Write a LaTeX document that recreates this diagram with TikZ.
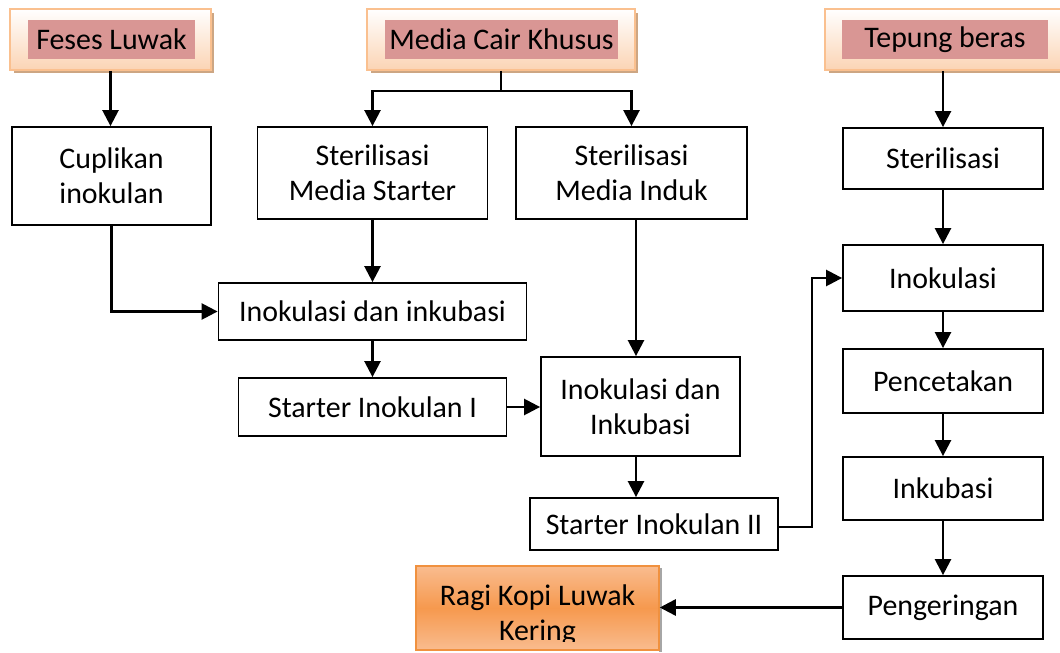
\documentclass[tikz,border=0pt]{standalone}
\usepackage{fontspec}
\setmainfont{Carlito}
\usetikzlibrary{arrows.meta}
\definecolor{peach}{HTML}{FBD4B4}
\definecolor{peachline}{HTML}{FAC08F}
\definecolor{rose}{HTML}{D99694}
\definecolor{tanshadow}{HTML}{CDA683}
\definecolor{ragilight}{HTML}{F9BC8F}
\definecolor{ragimid}{HTML}{F6994E}
\definecolor{ragiline}{HTML}{F0913F}
\tikzset{
  proc/.style={draw,line width=1.8bp,inner sep=0pt,align=center,font=\fontsize{30}{35}\selectfont},
  source/.style={draw=peachline,line width=2bp,top color=white,bottom color=peach,inner sep=0pt},
  tag/.style={fill=rose,inner sep=0pt,font=\fontsize{30}{35}\selectfont},
  arrow/.style={-{Triangle[length=16bp,width=16bp]}},
}
\begin{document}
\begin{tikzpicture}[x=1bp,y=-1bp,line join=miter]
\useasboundingbox (0,0) rectangle (1060,653);
%% sources
\fill [tanshadow] (14,13) rectangle (214,73);
\node (node_feses) at (110.5,39.5) [source,minimum width=201bp,minimum height=61bp] {};
\node (tag_feses) at (111.5,39.5) [tag,minimum width=167bp,minimum height=39bp] {Feses Luwak};
\fill [tanshadow] (371,13) rectangle (638,73);
\node (node_media) at (501,39.5) [source,minimum width=268bp,minimum height=61bp] {};
\node (tag_media) at (501.5,39.5) [tag,minimum width=233bp,minimum height=39bp] {Media Cair Khusus};
\fill [tanshadow] (829,13) rectangle (1066,73);
\node (node_tepung) at (943.5,39.5) [source,minimum width=237bp,minimum height=61bp] {};
\node (tag_tepung) at (945,39.5) [tag,minimum width=206bp,minimum height=39bp] {Tepung beras};
%% process boxes
\node (node_cuplikan) at (111.5,176) [proc,minimum width=199bp,minimum height=98bp] {Cuplikan\\inokulan};
\node (node_sms) at (372.5,173) [proc,minimum width=230bp,minimum height=92bp] {Sterilisasi\\Media Starter};
\node (node_smi) at (631.5,173) [proc,minimum width=231bp,minimum height=92bp] {Sterilisasi\\Media Induk};
\node (node_ster) at (943,158.5) [proc,minimum width=200bp,minimum height=61bp] {Sterilisasi};
\node (node_iki) at (372.5,311.5) [proc,minimum width=308bp,minimum height=57bp] {Inokulasi dan inkubasi};
\node (node_si1) at (372.5,407) [proc,minimum width=268bp,minimum height=58bp] {Starter Inokulan I};
\node (node_mid) at (640.5,406.5) [proc,minimum width=199bp,minimum height=99bp] {Inokulasi dan\\Inkubasi};
\node (node_si2) at (654,524) [proc,minimum width=248bp,minimum height=52bp] {Starter Inokulan II};
\node (node_inok) at (943,278) [proc,minimum width=200bp,minimum height=66bp] {Inokulasi};
\node (node_cetak) at (943,381) [proc,minimum width=200bp,minimum height=64bp] {Pencetakan};
\node (node_inkub) at (943,488.5) [proc,minimum width=200bp,minimum height=63bp] {Inkubasi};
\node (node_kering) at (943,607.5) [proc,minimum width=200bp,minimum height=63bp] {Pengeringan};
%% result
\fill [black!35] (659,568) rectangle (662,652);
\node (node_ragi) at (537.5,608) [draw=ragiline,line width=1.5bp,top color=ragilight,bottom color=ragilight,middle color=ragimid,inner sep=0pt,minimum width=243bp,minimum height=84bp] {};
\begin{scope}
\clip (416,566) rectangle (659,641);
\node (text_ragi) at (537.5,605) [anchor=base,inner sep=0pt,font=\fontsize{30}{35}\selectfont] {Ragi Kopi Luwak};
\node (text_kering) at (537.5,640) [anchor=base,inner sep=0pt,font=\fontsize{30}{35}\selectfont] {Kering};
\end{scope}
%% connectors
\begin{scope}[line width=2.5bp]
\draw [arrow] (node_feses.south) -- (node_feses.south |- node_cuplikan.north);
\draw (node_media.south) -- ++(0,20) coordinate (split_media);
\draw [arrow] (split_media) -| (node_sms.north);
\draw [arrow] (split_media) -| (node_smi.north);
\draw [arrow] (node_tepung.south -| node_ster.north) -- (node_ster.north);
\draw [arrow] (node_cuplikan.south) |- (node_iki.west);
\draw [arrow] (node_sms.south) -- (node_iki.north);
\draw [arrow] (node_iki.south) -- (node_si1.north);
\draw [arrow] (node_si1.east) -- (node_mid.west |- node_si1.east);
\draw [arrow] ([xshift=4.5bp]node_smi.south) -- ([xshift=4.5bp]node_smi.south |- node_mid.north);
\draw [arrow] ([xshift=-4.5bp]node_mid.south) -- ([xshift=-4.5bp]node_mid.south |- node_si2.north);
\draw [arrow] ([yshift=-3bp]node_si2.east) -- ++(33,0) |- (node_inok.west);
\draw [arrow] (node_ster.south) -- (node_inok.north);
\draw [arrow] (node_inok.south) -- (node_cetak.north);
\draw [arrow] (node_cetak.south) -- (node_inkub.north);
\draw [arrow] (node_inkub.south) -- (node_kering.north);
\draw [arrow] (node_kering.west) -- (node_ragi.east |- node_kering.west);
\end{scope}
%
\end{tikzpicture}
\end{document}
